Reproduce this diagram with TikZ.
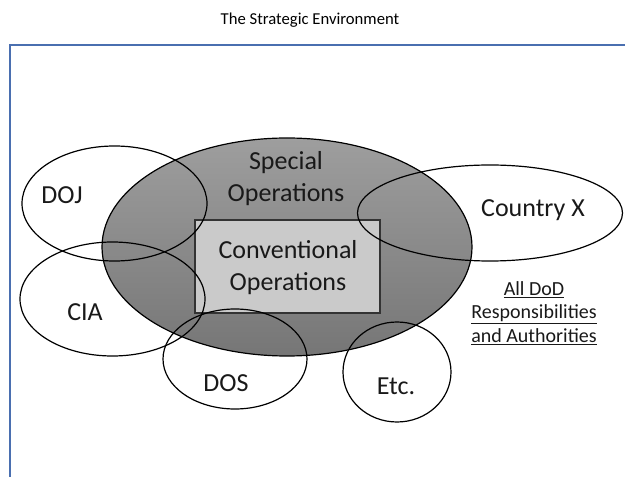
\documentclass[tikz,border=0pt]{standalone}
\usepackage{fontspec}
\setmainfont{Carlito}
\usetikzlibrary{shapes.geometric}
\definecolor{framblue}{RGB}{74,111,176}
\definecolor{soptop}{RGB}{158,158,158}
\definecolor{sopbot}{RGB}{118,118,118}
\definecolor{convfill}{RGB}{202,202,202}
\tikzset{
  orgell/.style={ellipse, draw=black, line width=0.9pt, inner sep=0pt},
  lbl/.style={font=\fontsize{19.5}{24}\selectfont, text=black!90, inner sep=0pt, align=center},
}
\begin{document}
\begin{tikzpicture}[x=0.75pt,y=-0.75pt]
\useasboundingbox (0,0) rectangle (625,477);
% title
\node[font=\fontsize{12.5}{15}\selectfont, inner sep=0pt] (title) at (310,20) {The Strategic Environment};
% frame
\coordinate (ftl) at (10,45);
\coordinate (ftr) at (626,45);
\coordinate (fbl) at (10,478);
\draw[framblue, line width=1.6pt] (fbl) -- (ftl) -- (ftr);
% special operations
\node[ellipse, draw=black, line width=0.9pt, inner sep=0pt, minimum width=370*0.75pt, minimum height=218*0.75pt,
  top color=soptop, bottom color=sopbot] (sop) at (287,247) {};
% conventional operations
\node[draw=black!80, line width=1.1pt, fill=convfill, minimum width=185*0.75pt, minimum height=93*0.75pt, inner sep=0pt] (conv) at (287.5,266.5) {};
% organisations
\node[orgell, minimum width=185*0.75pt, minimum height=115*0.75pt] (doj) at (114.5,203.5) {};
\node[orgell, minimum width=185*0.75pt, minimum height=114*0.75pt] (cia) at (112.5,299) {};
\node[orgell, minimum width=144*0.75pt, minimum height=100*0.75pt] (dos) at (235,359) {};
\node[orgell, minimum width=108*0.75pt, minimum height=100*0.75pt] (etc) at (397,372) {};
\node[orgell, minimum width=265*0.75pt, minimum height=96*0.75pt] (ctry) at (490,213) {};
% labels
\node[lbl] (sopl) at (286,179) {Special\\Operations};
\node[lbl] (convl) at (288,268) {Conventional\\Operations};
\node[lbl] (dojl) at (62,195) {DOJ};
\node[lbl] (cial) at (85,312) {CIA};
\node[lbl] (dosl) at (226,383) {DOS};
\node[lbl] (etcl) at (396,386) {Etc.};
\node[lbl] (ctryl) at (533,210) {Country X};
\node[font=\fontsize{15}{17.6}\selectfont, text=black!90, inner sep=0pt, align=center] (dod) at (534,313)
  {\underline{All DoD}\\\underline{Responsibilities}\\\underline{and Authorities}};
\end{tikzpicture}
\end{document}
